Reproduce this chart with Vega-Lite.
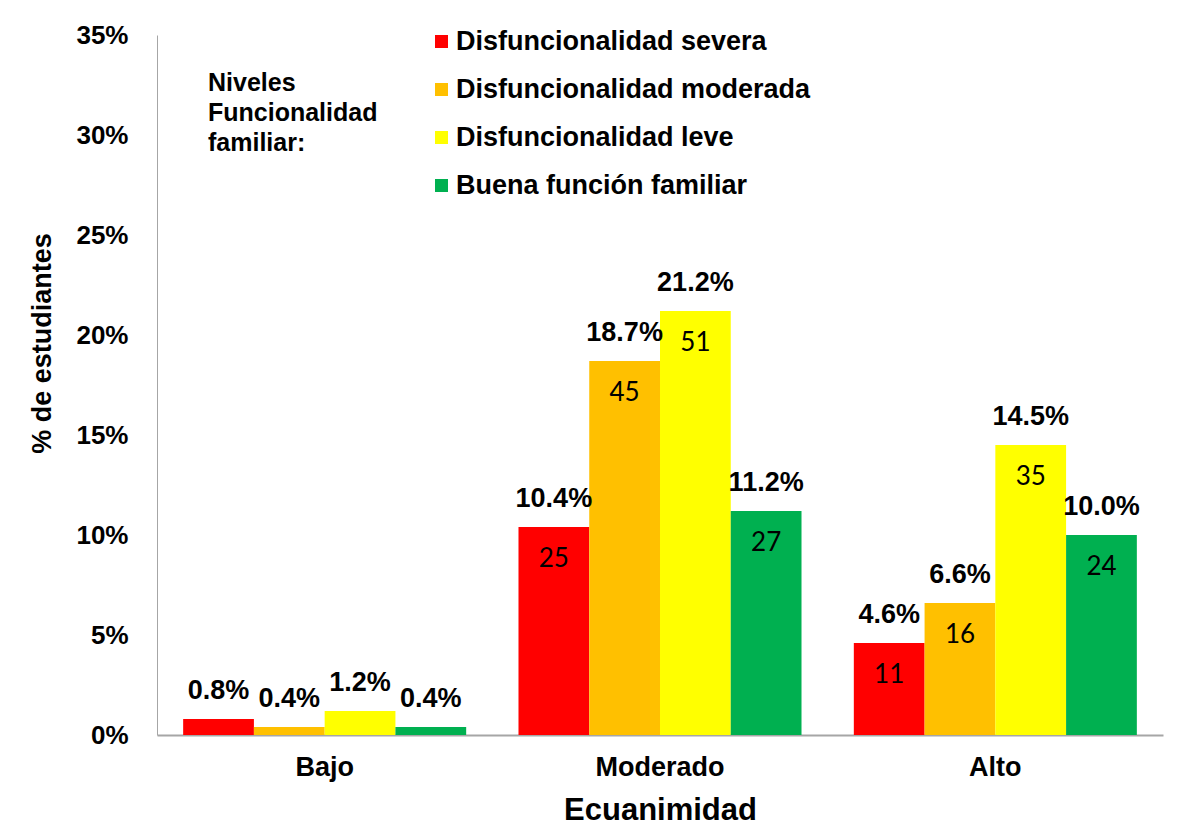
{
  "$schema": "https://vega.github.io/schema/vega-lite/v6.json",
  "width": 1006,
  "height": 700,
  "autosize": {"type": "none"},
  "padding": {"left": 157, "top": 35, "right": 17, "bottom": 91},
  "background": "white",
  "config": {
    "view": {"stroke": null},
    "font": "Liberation Sans",
    "axis": {"grid": false, "ticks": false, "tickSize": 0, "labelColor": "#000", "titleColor": "#000", "labelFontWeight": "bold", "titleFontWeight": "bold", "labelFont": "Liberation Sans", "titleFont": "Liberation Sans"}
  },
  "data": {
    "values": [
      {"grupo": "Bajo", "nivel": "Disfuncionalidad severa", "n": 2, "pct": 0.008},
      {"grupo": "Bajo", "nivel": "Disfuncionalidad moderada", "n": 1, "pct": 0.004},
      {"grupo": "Bajo", "nivel": "Disfuncionalidad leve", "n": 3, "pct": 0.012},
      {"grupo": "Bajo", "nivel": "Buena función familiar", "n": 1, "pct": 0.004},
      {"grupo": "Moderado", "nivel": "Disfuncionalidad severa", "n": 25, "pct": 0.104},
      {"grupo": "Moderado", "nivel": "Disfuncionalidad moderada", "n": 45, "pct": 0.187},
      {"grupo": "Moderado", "nivel": "Disfuncionalidad leve", "n": 51, "pct": 0.212},
      {"grupo": "Moderado", "nivel": "Buena función familiar", "n": 27, "pct": 0.112},
      {"grupo": "Alto", "nivel": "Disfuncionalidad severa", "n": 11, "pct": 0.046},
      {"grupo": "Alto", "nivel": "Disfuncionalidad moderada", "n": 16, "pct": 0.066},
      {"grupo": "Alto", "nivel": "Disfuncionalidad leve", "n": 35, "pct": 0.145},
      {"grupo": "Alto", "nivel": "Buena función familiar", "n": 24, "pct": 0.1}
    ]
  },
  "encoding": {
    "x": {
      "field": "grupo", "type": "nominal", "sort": ["Bajo", "Moderado", "Alto"],
      "scale": {"paddingInner": 0.156, "paddingOuter": 0.078},
      "axis": {
        "title": "Ecuanimidad", "labelAngle": 0, "labelFontSize": 27, "labelPadding": 19,
        "titleFontSize": 31, "titleBaseline": "top", "titleY": 60,
        "domainColor": "#a6a6a6", "domainWidth": 2
      }
    },
    "xOffset": {"field": "nivel", "type": "nominal", "sort": ["Disfuncionalidad severa", "Disfuncionalidad moderada", "Disfuncionalidad leve", "Buena función familiar"]},
    "y": {
      "field": "pct", "type": "quantitative",
      "scale": {"domain": [0, 0.35], "nice": false},
      "axis": {
        "title": "% de estudiantes", "format": ".0%", "values": [0, 0.05, 0.1, 0.15, 0.2, 0.25, 0.3, 0.35],
        "labelFontSize": 26, "labelPadding": 29,
        "titleFontSize": 27, "titleBaseline": "alphabetic", "titleX": -107, "titleY": 308,
        "domainColor": "#a6a6a6", "domainWidth": 1
      }
    }
  },
  "layer": [
    {
      "mark": {"type": "bar"},
      "encoding": {
        "color": {
          "field": "nivel", "type": "nominal",
          "sort": ["Disfuncionalidad severa", "Disfuncionalidad moderada", "Disfuncionalidad leve", "Buena función familiar"],
          "scale": {
            "domain": ["Disfuncionalidad severa", "Disfuncionalidad moderada", "Disfuncionalidad leve", "Buena función familiar"],
            "range": ["#ff0000", "#ffc000", "#ffff00", "#00b050"]
          },
          "legend": {
            "title": ["Niveles", "Funcionalidad", "familiar:"],
            "orient": "none", "legendX": 51, "legendY": -7,
            "titleOrient": "left", "titleAnchor": "middle", "titleFontSize": 25, "titleLineHeight": 30,
            "titleFontWeight": "bold", "titleColor": "#000", "titlePadding": 50, "titleFont": "Liberation Sans",
            "labelFontSize": 27, "labelFontWeight": "bold", "labelColor": "#000", "labelFont": "Liberation Sans",
            "labelOffset": 1, "labelLimit": 600,
            "symbolType": "square", "symbolSize": 169, "symbolStrokeWidth": 0,
            "rowPadding": 20
          }
        }
      }
    },
    {
      "mark": {"type": "text", "baseline": "middle", "dy": -28, "fontSize": 27, "fontWeight": "bold", "color": "#000"},
      "encoding": {"text": {"field": "pct", "type": "quantitative", "format": ".1%"}}
    },
    {
      "transform": [{"filter": "datum.grupo != 'Bajo'"}],
      "mark": {"type": "text", "baseline": "middle", "dy": 32, "fontSize": 26, "font": "Lato", "color": "#000"},
      "encoding": {"text": {"field": "n", "type": "quantitative"}}
    }
  ]
}
